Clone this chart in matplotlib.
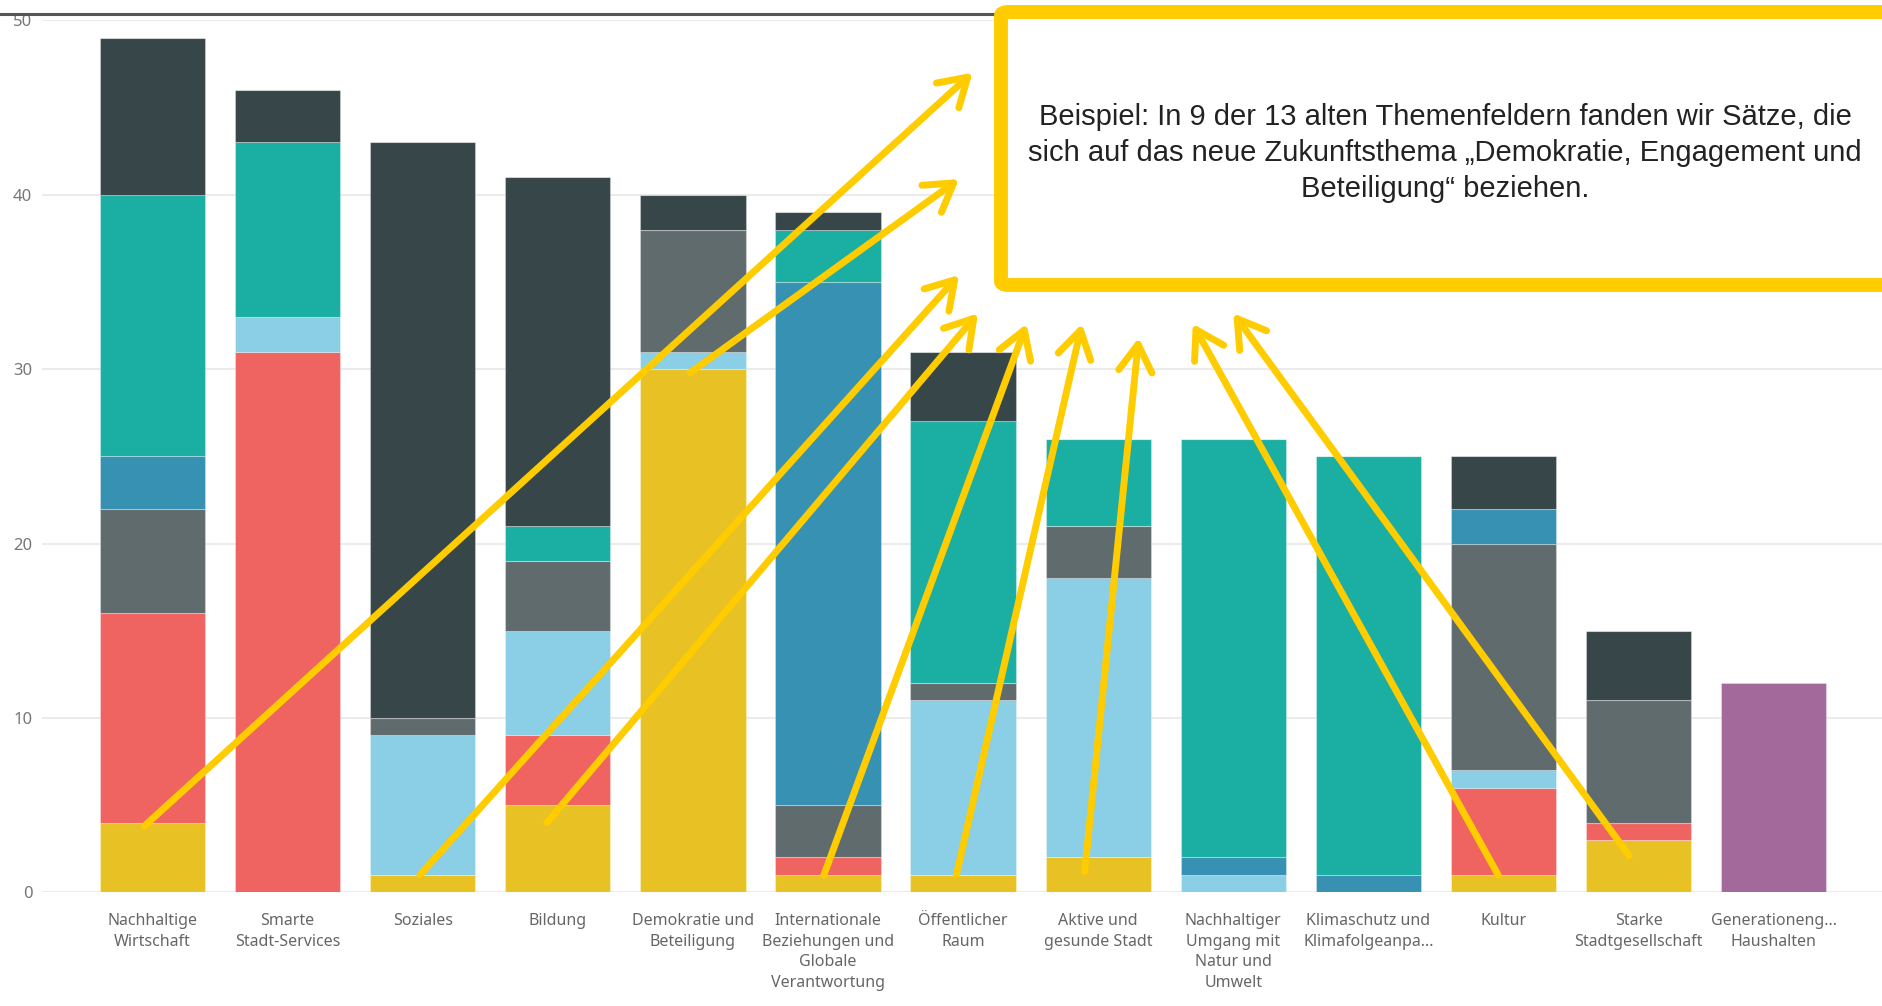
import numpy as np
import matplotlib.pyplot as plt
from matplotlib.lines import Line2D
from matplotlib.patches import FancyBboxPatch

# Themenfelder (x-Achse)
kategorien = [
    "Nachhaltige\nWirtschaft", "Smarte\nStadt-Services", "Soziales", "Bildung",
    "Demokratie und\nBeteiligung",
    "Internationale\nBeziehungen und\nGlobale\nVerantwortung",
    "Öffentlicher\nRaum", "Aktive und\ngesunde Stadt",
    "Nachhaltiger\nUmgang mit\nNatur und\nUmwelt",
    "Klimaschutz und\nKlimafolgeanpa...", "Kultur", "Starke\nStadtgesellschaft",
    "Generationeng...\nHaushalten",
]

# gestapelte Werte, von unten nach oben
gelb = [4, 0, 1, 5, 30, 1, 1, 2, 0, 0, 1, 3, 0]
rot = [12, 31, 0, 4, 0, 1, 0, 0, 0, 0, 5, 1, 0]
hellblau = [0, 2, 8, 6, 1, 0, 10, 16, 1, 0, 1, 0, 0]
grau = [6, 0, 1, 4, 7, 3, 1, 3, 0, 0, 13, 7, 0]
blau = [3, 0, 0, 0, 0, 30, 0, 0, 1, 1, 2, 0, 0]
tuerkis = [15, 10, 0, 2, 0, 3, 15, 5, 24, 24, 0, 0, 0]
dunkel = [9, 3, 33, 20, 2, 1, 4, 0, 0, 0, 3, 4, 0]
lila = [0, 0, 0, 0, 0, 0, 0, 0, 0, 0, 0, 0, 12]

y_ticks = [0, 10, 20, 30, 40, 50]

# Pfeile: Start (Kategorie, Wert) -> Ziel (Datenkoordinaten)
pfeil_start = [(-0.06, 3.8), (3.98, 29.8), (1.98, 1.0), (2.92, 4.0), (4.97, 1.0),
               (5.95, 1.0), (6.90, 1.2), (9.96, 1.0), (10.93, 2.1)]
pfeil_ziel = [(6.07, 47.0), (5.97, 40.9), (5.97, 35.4), (6.11, 33.2), (6.47, 32.6),
              (6.88, 32.6), (7.30, 31.8), (7.70, 32.6), (8.00, 33.2)]

text_box = ("Beispiel: In 9 der 13 alten Themenfeldern fanden wir Sätze, die\n"
            "sich auf das neue Zukunftsthema „Demokratie, Engagement und\n"
            "Beteiligung“ beziehen.")

serien = [
    (gelb, "#E8C224"), (rot, "#EF6360"), (hellblau, "#8ACFE5"), (grau, "#5F6B6D"),
    (blau, "#3691B2"), (tuerkis, "#1AAFA2"), (dunkel, "#374649"), (lila, "#A3699A"),
]

W, H = 1883, 1006
fig = plt.figure(figsize=(W / 100, H / 100), dpi=100)
ax = fig.add_axes([42 / W, (H - 892.3) / H, 1 - 42 / W, (892.3 - 20.4) / H])

x = np.arange(len(kategorien))
unten = np.zeros(len(kategorien))
for werte, farbe in serien:
    werte = np.array(werte, dtype=float)
    ax.bar(x, werte, width=0.78, bottom=unten, color=farbe,
           edgecolor=(1, 1, 1, 0.3), linewidth=0.8, zorder=2)
    unten += werte

ax.set_xlim(-0.818, 12.809)
ax.set_ylim(0, 50)
ax.set_yticks(y_ticks)
ax.set_xticks(x)
ax.set_xticklabels(kategorien, family="Noto Sans", fontsize=11.5, color="#666666",
                   linespacing=1.38)
ax.tick_params(axis="x", length=0, pad=15)
ax.tick_params(axis="y", length=0, pad=7, labelsize=12, labelcolor="#777777")
for lbl in ax.get_yticklabels():
    lbl.set_family("Noto Sans")
ax.grid(axis="y", color="#EBEBEB", linewidth=1.5, zorder=0)
for s in ax.spines.values():
    s.set_visible(False)

# Pfeile
for (x0, y0), (x1, y1) in zip(pfeil_start, pfeil_ziel):
    ax.annotate("", xy=(x1, y1), xytext=(x0, y0), annotation_clip=False,
                arrowprops=dict(arrowstyle="->,head_length=0.65,head_width=0.4",
                                mutation_scale=30, lw=5, color="#FFCC00",
                                shrinkA=0, shrinkB=0),
                zorder=5)

# dunkle Linie oben
fig.add_artist(Line2D([0, 1], [1 - 14 / H, 1 - 14 / H], transform=fig.transFigure,
                      color="#555555", linewidth=2.2, zorder=1))

# Kasten mit gelbem Rand
box = FancyBboxPatch((1001 / W, 1 - 285 / H), (W + 40 - 1001) / W, (285 - 12) / H,
                     boxstyle="round,pad=0,rounding_size=0.004",
                     transform=fig.transFigure, facecolor="white",
                     edgecolor="#FFCC00", linewidth=10, zorder=10)
fig.add_artist(box)
fig.text(1445 / W, 1 - 153 / H, text_box, ha="center", va="center",
         family="Liberation Sans", fontsize=21, color="#222222",
         linespacing=1.35, zorder=11)

fig.savefig("out.png", dpi=100)
